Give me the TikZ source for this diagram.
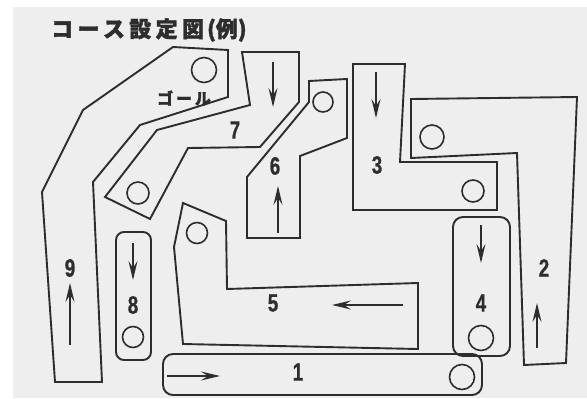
\documentclass[tikz,border=0pt]{standalone}
\usepackage{fontspec}
\setmainfont{Liberation Sans}
\newfontfamily\titlefont{Noto Sans CJK JP}[LetterSpace=20, BoldFeatures={FakeBold=1.6}]
\newfontfamily\goalfont{Noto Sans CJK JP}[LetterSpace=18, BoldFeatures={FakeBold=1.3}]
\newfontfamily\jpplain{Noto Sans CJK JP}[BoldFeatures={FakeBold=1.6}]
\newfontfamily\numfont{Liberation Sans}[FakeStretch=0.75, BoldFeatures={FakeBold=0.8}]
\usetikzlibrary{arrows.meta}
\definecolor{linec}{RGB}{45,45,45}
\definecolor{paper}{RGB}{238,238,238}
\tikzset{
  course/.style={draw=linec, line width=1.9pt, line join=miter},
  rcourse/.style={course, rounded corners=#1},
  hole/.style={draw=linec, line width=1.6pt},
  dirarrow/.style={draw=linec, line width=1.5pt, -{Stealth[length=19pt,width=9pt,inset=7pt]}},
  num/.style={font=\numfont\bfseries\fontsize{25}{25}\selectfont, text=linec, inner sep=0pt},
  jptext/.style={text=linec, inner sep=0pt}
}
\begin{document}
\begin{tikzpicture}[x=1pt,y=-1pt]
\useasboundingbox (0,0) rectangle (587,399);
\fill[white] (0,0) rectangle (587,399);
\fill[paper] (13,7) rectangle (587,398);

% title
\node[jptext, anchor=west] (title) at (51,30)
  {\titlefont\bfseries\fontsize{22}{22}\selectfont コース設定図\hspace{3pt}\jpplain\bfseries (例)};

% course 9 (with goal)
\draw[course] (173,47) -- (83,110) -- (42,192) -- (55,382) -- (102,382) -- (93,182) -- (140,125) -- (228,97) -- (228,50) -- cycle;
% course 7
\draw[course] (242,52) -- (299,52) -- (299,102) -- (260,147) -- (188,148) -- (150,219) -- (105,197) -- (157,130) -- (250,105) -- cycle;
% course 6
\draw[course] (309,81) -- (347,79) -- (347,138) -- (300,156) -- (300,238) -- (247,238) -- (247,177) -- (309,102) -- cycle;
% course 3
\draw[course] (353,64) -- (405,64) -- (400,162) -- (497,162) -- (497,210) -- (353,210) -- cycle;
% course 2
\draw[course] (411,99) -- (577,97) -- (566,363) -- (524,365) -- (517,153) -- (411,158) -- cycle;
% course 5
\draw[course] (183,203) -- (226,221) -- (227,289) -- (418,283) -- (418,349) -- (183,344) -- (174,247) -- cycle;
% course 4, 8, 1
\draw[rcourse=10] (453,217) rectangle (510,356);
\draw[rcourse=8] (116,232) rectangle (151,360);
\draw[rcourse=10] (163,354) rectangle (482,395);

% holes
\draw[hole] (204,70) circle (12.5);
\draw[hole] (138,193) circle (11);
\draw[hole] (323,102) circle (10);
\draw[hole] (432,137) circle (12);
\draw[hole] (473,191) circle (11);
\draw[hole] (197,233) circle (10.5);
\draw[hole] (133,337) circle (10.5);
\draw[hole] (481,338) circle (12.5);
\draw[hole] (462,377) circle (12.5);

% goal label
\node[jptext] (goal) at (184,98) {\goalfont\bfseries\fontsize{16}{16}\selectfont ゴール};

% numbers
\node[num] (n1) at (298,372) {1};
\node[num] (n2) at (544,268) {2};
\node[num] (n3) at (377,165) {3};
\node[num] (n4) at (481,303) {4};
\node[num] (n5) at (273,303) {5};
\node[num] (n6) at (275,166) {6};
\node[num] (n7) at (235,130) {7};
\node[num] (n8) at (133,305) {8};
\node[num] (n9) at (70,268) {9};

% direction arrows
\coordinate (a7s) at (273,62);  \coordinate (a7e) at (273,107);
\coordinate (a6s) at (278,233); \coordinate (a6e) at (278,186);
\coordinate (a3s) at (376,72);  \coordinate (a3e) at (376,118);
\coordinate (a2s) at (537,348); \coordinate (a2e) at (537,303);
\coordinate (a4s) at (481,225); \coordinate (a4e) at (481,263);
\coordinate (a1s) at (167,376); \coordinate (a1e) at (220,376);
\coordinate (a5s) at (403,305); \coordinate (a5e) at (332,305);
\coordinate (a8s) at (133,243); \coordinate (a8e) at (133,280);
\coordinate (a9s) at (70,345);  \coordinate (a9e) at (70,283);
\foreach \a in {7,6,3,2,4,1,5,8,9}
  \draw[dirarrow] (a\a s) -- (a\a e);
\end{tikzpicture}
\end{document}
